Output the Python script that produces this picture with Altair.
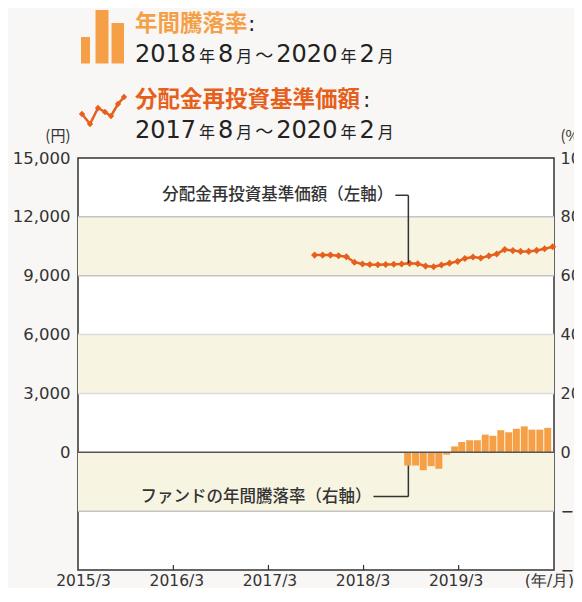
import altair as alt
import pandas as pd

# ---------------- data ----------------
line_months = ["2017-08", "2017-09", "2017-10", "2017-11", "2017-12",
               "2018-01", "2018-02", "2018-03", "2018-04", "2018-05", "2018-06",
               "2018-07", "2018-08", "2018-09", "2018-10", "2018-11", "2018-12",
               "2019-01", "2019-02", "2019-03", "2019-04", "2019-05", "2019-06",
               "2019-07", "2019-08", "2019-09", "2019-10", "2019-11", "2019-12",
               "2020-01", "2020-02"]
line_values = [10050, 10050, 10050, 10020, 9970,
               9690, 9600, 9570, 9560, 9570, 9580,
               9600, 9630, 9610, 9490, 9460, 9550,
               9640, 9730, 9880, 9950, 9900, 10010,
               10110, 10330, 10280, 10240, 10240, 10290,
               10370, 10480]

bar_months = ["2018-08", "2018-09", "2018-10", "2018-11", "2018-12",
              "2019-01", "2019-02", "2019-03", "2019-04", "2019-05", "2019-06",
              "2019-07", "2019-08", "2019-09", "2019-10", "2019-11", "2019-12",
              "2020-01", "2020-02"]
bar_values = [-4.5, -4.5, -6.1, -4.7, -5.6,
              -0.8, 2.0, 3.5, 4.1, 4.1, 6.0,
              5.6, 7.5, 6.8, 8.0, 8.8, 7.7,
              7.7, 8.3]

left_ticks = [0, 3000, 6000, 9000, 12000, 15000]
right_ticks = [-40, -20, 0, 20, 40, 60, 80, 100]
x_tick_years = [2015, 2016, 2017, 2018, 2019]
bands = [(9000, 12000), (3000, 6000), (-3000, 0)]
grid_strong = [12000, 9000, -3000]
grid_light = [6000, 3000]

title_bar = "年間騰落率"
title_line = "分配金再投資基準価額"
period_bar = ["2018", "年", "8", "月", "～", "2020", "年", "2", "月"]
period_line = ["2017", "年", "8", "月", "～", "2020", "年", "2", "月"]
label_line = "分配金再投資基準価額（左軸）"
label_bar = "ファンドの年間騰落率（右軸）"

# ---------------- styles ----------------
W, H = 476, 412
BG = "#f9f7f5"
BAND = "#f8f4e2"
BAR_C = "#f5a046"
LINE_C = "#e6601c"
TXT = "#333333"
FONT_NUM = "DejaVu Sans"
FONT_JP = "Noto Sans CJK JP"

line_df = pd.DataFrame({"date": pd.to_datetime([m + "-25" for m in line_months]),
                        "v": line_values})
bar_df = pd.DataFrame({"date": pd.to_datetime([m + "-25" for m in bar_months]),
                       "v": bar_values})

x_scale = alt.Scale(domain=[alt.DateTime(year=2015, month=3, date=1),
                            alt.DateTime(year=2020, month=3, date=1)])
left_scale = alt.Scale(domain=[-6000, 15000], nice=False, zero=False)
right_scale = alt.Scale(domain=[-40, 100], nice=False, zero=False)


def X(field="date", axis=None):
    return alt.X(f"{field}:T", scale=x_scale, axis=axis)


def YL(field="v", axis=None):
    return alt.Y(f"{field}:Q", scale=left_scale, axis=axis)


x_axis = alt.Axis(
    values=[alt.DateTime(year=y, month=3, date=1) for y in x_tick_years]
    + [alt.DateTime(year=2020, month=3, date=1)],
    labelExpr="year(datum.value) >= 2020 ? '(年/月)' : timeFormat(datum.value, '%Y/%-m')",
    title=None, domain=False, ticks=False, grid=False, labelFlush=False,
    labelOverlap=False, labelFont=FONT_NUM, labelFontSize=15.5, labelColor=TXT,
    labelPadding=3, labelBaseline="top")

left_axis = alt.Axis(
    values=left_ticks, format=",d", title="(円)", titleAngle=0, titleAlign="right",
    titleBaseline="middle", titleX=-8, titleY=-23, titleFont=FONT_JP,
    titleFontSize=15, titleFontWeight="normal", titleColor=TXT,
    domain=False, ticks=False, grid=False, labelFont=FONT_NUM,
    labelFontSize=16.5, labelColor=TXT, labelPadding=8)

right_axis = alt.Axis(
    orient="right", values=right_ticks, format="d", title="(%)", titleAngle=0,
    titleAlign="left", titleBaseline="middle", titleX=6, titleY=-23,
    titleFont=FONT_JP, titleFontSize=15, titleFontWeight="normal", titleColor=TXT,
    domain=False, ticks=False, grid=False, labelFont=FONT_NUM,
    labelFontSize=16, labelColor=TXT, labelPadding=6)

# background bands
band_df = pd.DataFrame({"lo": [b[0] for b in bands], "hi": [b[1] for b in bands]})
band_layer = alt.Chart(band_df).mark_rect(color=BAND).encode(
    x=alt.value(0), x2=alt.value("width"),
    y=YL("lo", left_axis), y2="hi:Q")

grid_df = pd.DataFrame({"v": grid_strong + grid_light,
                        "c": ["#c4c4c4"] * len(grid_strong) + ["#dcdcdc"] * len(grid_light)})
grid_layer = alt.Chart(grid_df).mark_rule(strokeWidth=1.5).encode(
    y=YL("v"), color=alt.Color("c:N", scale=None))

bar_layer = alt.Chart(bar_df).mark_bar(size=7, color=BAR_C).encode(
    x=X("date", x_axis), y=alt.Y("v:Q", scale=right_scale, axis=right_axis))

zero_layer = alt.Chart(pd.DataFrame({"v": [0]})).mark_rule(
    color="#555555", strokeWidth=1.5).encode(y=YL("v"))

line_layer = alt.Chart(line_df).mark_line(
    color=LINE_C, strokeWidth=2.5,
    point=alt.OverlayMarkDef(shape="diamond", size=50, filled=True, color=LINE_C)
).encode(x=X(), y=YL())

# small inward ticks at the bottom
tick_df = pd.DataFrame({"date": pd.to_datetime([f"{y}-03-01" for y in x_tick_years[1:]]),
                        "a": -6000, "b": -5740})
tick_layer = alt.Chart(tick_df).mark_rule(color=TXT, strokeWidth=1.2).encode(
    x=X(), y=YL("a"), y2="b:Q")

# leader lines + labels
lead_x = pd.Timestamp("2018-08-20")
upper_start = pd.Timestamp("2018-07-01")
lower_start = pd.Timestamp("2018-04-08")
up_y, low_y = 13100, -2260
vert_df = pd.DataFrame({"date": [lead_x, lead_x], "a": [up_y, low_y],
                        "b": [line_values[line_months.index("2018-08")],
                              bar_values[0] / 100 * 15000]})
vert_layer = alt.Chart(vert_df).mark_rule(color=TXT, strokeWidth=1.5).encode(
    x=X(), y=YL("a"), y2="b:Q")
hor_df = pd.DataFrame({"d1": [upper_start, lower_start], "d2": [lead_x, lead_x],
                       "v": [up_y, low_y]})
hor_layer = alt.Chart(hor_df).mark_rule(color=TXT, strokeWidth=1.5).encode(
    x=X("d1"), x2="d2:T", y=YL("v"))
lab_df = pd.DataFrame({"date": [upper_start, lower_start], "v": [up_y, low_y],
                       "t": [label_line, label_bar]})
lab_layer = alt.Chart(lab_df).mark_text(
    align="right", baseline="middle", dx=-2, font=FONT_JP, fontSize=16.5,
    fontWeight=500, color=TXT).encode(x=X(), y=YL(), text="t:N")

# ---------------- header (legend) ----------------
OX, OY = 78, 158  # plot origin in page coordinates
DIG, SMALL, TIL = 24, 16, 18
widths = {"d": 0.636 * DIG, "s": SMALL, "t": TIL}


def kind(s):
    if s.isdigit():
        return "d"
    return "t" if s == "～" else "s"


segs = []
for parts, base in [(period_bar, 61.5), (period_line, 137.5)]:
    x = 135
    for p in parts:
        k = kind(p)
        segs.append({"t": p, "k": k, "x": x - OX, "y": base - OY})
        w = widths[k] * (len(p) if k == "d" else 1)
        x += w + 3
seg_df = pd.DataFrame(segs)


def seg_layer(k, size, font):
    return alt.Chart(seg_df[seg_df.k == k]).mark_text(
        align="left", baseline="alphabetic", font=font, fontSize=size, color="#222222"
    ).encode(x=alt.X("x:Q", scale=None), y=alt.Y("y:Q", scale=None), text="t:N")


dig_layer = seg_layer("d", DIG, FONT_NUM)
small_layer = seg_layer("s", SMALL, FONT_JP)
til_layer = seg_layer("t", TIL, FONT_JP)

title_df = pd.DataFrame({"t": [title_bar, title_line], "x": [135 - OX, 135 - OX],
                         "y": [23.5 - OY, 100 - OY], "c": [BAR_C, LINE_C]})
title_layer = alt.Chart(title_df).mark_text(
    align="left", baseline="middle", font=FONT_JP, fontSize=22.5, fontWeight="bold"
).encode(x=alt.X("x:Q", scale=None), y=alt.Y("y:Q", scale=None), text="t:N",
         color=alt.Color("c:N", scale=None))
colon_df = pd.DataFrame({"t": [":", ":"], "x": [248 - OX, 363 - OX],
                         "y": [24 - OY, 100 - OY]})
colon_layer = alt.Chart(colon_df).mark_text(
    align="left", baseline="middle", font=FONT_NUM, fontSize=22, color="#222222"
).encode(x=alt.X("x:Q", scale=None), y=alt.Y("y:Q", scale=None), text="t:N")

icon_bars = pd.DataFrame({"x1": [81, 95.5, 111.5], "x2": [90, 108.5, 124],
                          "y1": [37, 10, 23], "y2": [63.5, 63.5, 63.5]})
icon_bars[["x1", "x2"]] -= OX
icon_bars[["y1", "y2"]] -= OY
icon_bar_layer = alt.Chart(icon_bars).mark_rect(color=BAR_C).encode(
    x=alt.X("x1:Q", scale=None), x2="x2:Q",
    y=alt.Y("y1:Q", scale=None), y2="y2:Q")

icon_line = pd.DataFrame({"x": [82, 90, 98, 105, 111, 118, 124],
                          "y": [114, 124, 108, 112, 116, 104, 97]})
icon_line["x"] -= OX
icon_line["y"] -= OY
icon_line_layer = alt.Chart(icon_line).mark_line(
    color=LINE_C, strokeWidth=2.5,
    point=alt.OverlayMarkDef(shape="diamond", size=40, filled=True, color=LINE_C)
).encode(x=alt.X("x:Q", scale=None), y=alt.Y("y:Q", scale=None))

chart = alt.layer(
    band_layer, grid_layer, bar_layer, zero_layer, line_layer, tick_layer,
    vert_layer, hor_layer, lab_layer,
    icon_bar_layer, icon_line_layer, title_layer, colon_layer,
    dig_layer, small_layer, til_layer,
).resolve_scale(x="independent", y="independent").properties(
    width=W, height=H,
    padding={"left": 70, "top": 150, "right": 20, "bottom": 18},
    autosize=alt.AutoSizeParams(type="none"),
    background=BG,
).configure_view(stroke="#333333", strokeWidth=1.5, fill="white")

chart.save("out.html", embed_options={"renderer": "svg", "actions": False})
